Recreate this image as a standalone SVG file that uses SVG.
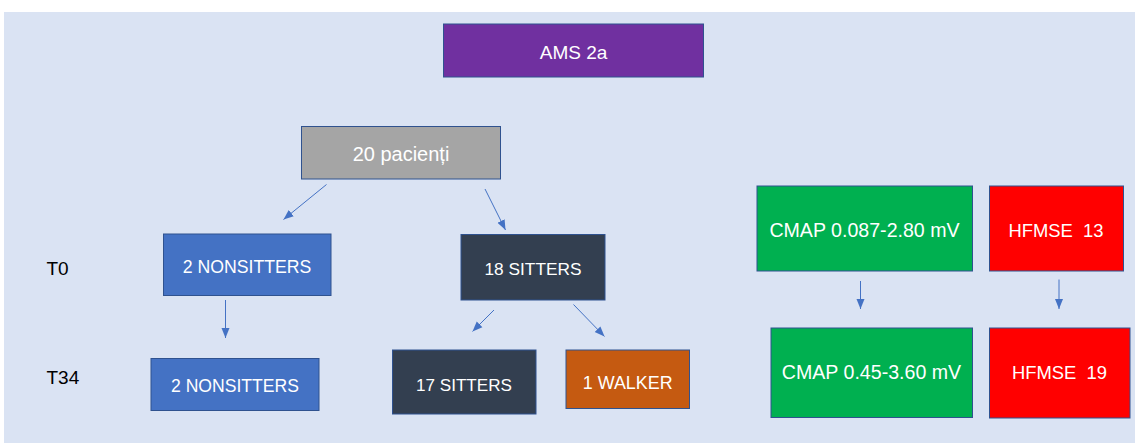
<svg xmlns="http://www.w3.org/2000/svg" width="1135" height="443" viewBox="0 0 1135 443">
  <style>
    .box { stroke: #2F528F; stroke-width: 1; }
    .lbl { font-family: "Liberation Sans", Arial, sans-serif; fill: #FFFFFF; text-anchor: middle; white-space: pre; }
    .side { font-family: "Liberation Sans", Arial, sans-serif; fill: #000000; font-size: 19px; }
    .conn { stroke: #4472C4; stroke-width: 1; fill: none; marker-end: url(#head); }
  </style>
  <defs>
    <marker id="head" markerUnits="userSpaceOnUse" markerWidth="10" markerHeight="10" viewBox="0 0 10 10" refX="10" refY="5" orient="auto">
      <path d="M0,1 L10,5 L0,9 Z" fill="#4472C4"/>
    </marker>
  </defs>

  <rect x="0" y="0" width="1135" height="443" fill="#FFFFFF"/>
  <rect x="4" y="12" width="1131" height="431" fill="#DAE3F3"/>

  <g id="time-labels">
    <text class="side" x="46.5" y="274.5">T0</text>
    <text class="side" x="46.5" y="383.5">T34</text>
  </g>

  <g id="connectors">
    <line class="conn" x1="326.5" y1="184.5" x2="283.5" y2="219.5"/>
    <line class="conn" x1="485" y1="189" x2="505.5" y2="230"/>
    <line class="conn" x1="225.5" y1="300" x2="225.5" y2="338"/>
    <line class="conn" x1="494" y1="310" x2="472.5" y2="331.5"/>
    <line class="conn" x1="573.5" y1="304.5" x2="604.5" y2="336.5"/>
    <line class="conn" x1="860.5" y1="281" x2="860.5" y2="309"/>
    <line class="conn" x1="1059" y1="279.5" x2="1059" y2="309"/>
  </g>

  <g id="ams2a">
    <rect class="box" x="443.5" y="24" width="260" height="53" fill="#7030A0"/>
    <text class="lbl" x="573.5" y="58.5" font-size="19">AMS 2a</text>
  </g>

  <g id="patients">
    <rect class="box" x="301.5" y="126.5" width="199" height="52.5" fill="#A5A5A5"/>
    <text class="lbl" x="401" y="160.5" font-size="20">20 pacienți</text>
  </g>

  <g id="nonsitters-t0">
    <rect class="box" x="163.5" y="234" width="167.5" height="61.5" fill="#4472C4"/>
    <text class="lbl" x="247" y="272.5" font-size="17.7">2 NONSITTERS</text>
  </g>

  <g id="sitters-t0">
    <rect class="box" x="461" y="234.5" width="144" height="65.5" fill="#333F50"/>
    <text class="lbl" x="533" y="275" font-size="17.3">18 SITTERS</text>
  </g>

  <g id="nonsitters-t34">
    <rect class="box" x="151" y="358.5" width="168" height="52" fill="#4472C4"/>
    <text class="lbl" x="235" y="391.5" font-size="17.6">2 NONSITTERS</text>
  </g>

  <g id="sitters-t34">
    <rect class="box" x="392.5" y="350" width="143.5" height="64" fill="#333F50"/>
    <text class="lbl" x="464" y="390.5" font-size="17.1">17 SITTERS</text>
  </g>

  <g id="walker-t34">
    <rect class="box" x="566" y="350" width="123.5" height="58.5" fill="#C55A11"/>
    <text class="lbl" x="627.7" y="388.5" font-size="17.9">1 WALKER</text>
  </g>

  <g id="cmap-t0">
    <rect class="box" x="757" y="186" width="215.5" height="85" fill="#00B050"/>
    <text class="lbl" x="864.5" y="236.5" font-size="19.6">CMAP 0.087-2.80 mV</text>
  </g>

  <g id="hfmse-t0">
    <rect class="box" x="989.5" y="186" width="134" height="85" fill="#FF0000"/>
    <text class="lbl" x="1056" y="236.5" font-size="18.4">HFMSE  13</text>
  </g>

  <g id="cmap-t34">
    <rect class="box" x="771" y="328" width="201.5" height="89.5" fill="#00B050"/>
    <text class="lbl" x="871.5" y="379" font-size="19.6">CMAP 0.45-3.60 mV</text>
  </g>

  <g id="hfmse-t34">
    <rect class="box" x="989.5" y="328" width="140.5" height="90" fill="#FF0000"/>
    <text class="lbl" x="1059.5" y="379" font-size="18.4">HFMSE  19</text>
  </g>
</svg>
